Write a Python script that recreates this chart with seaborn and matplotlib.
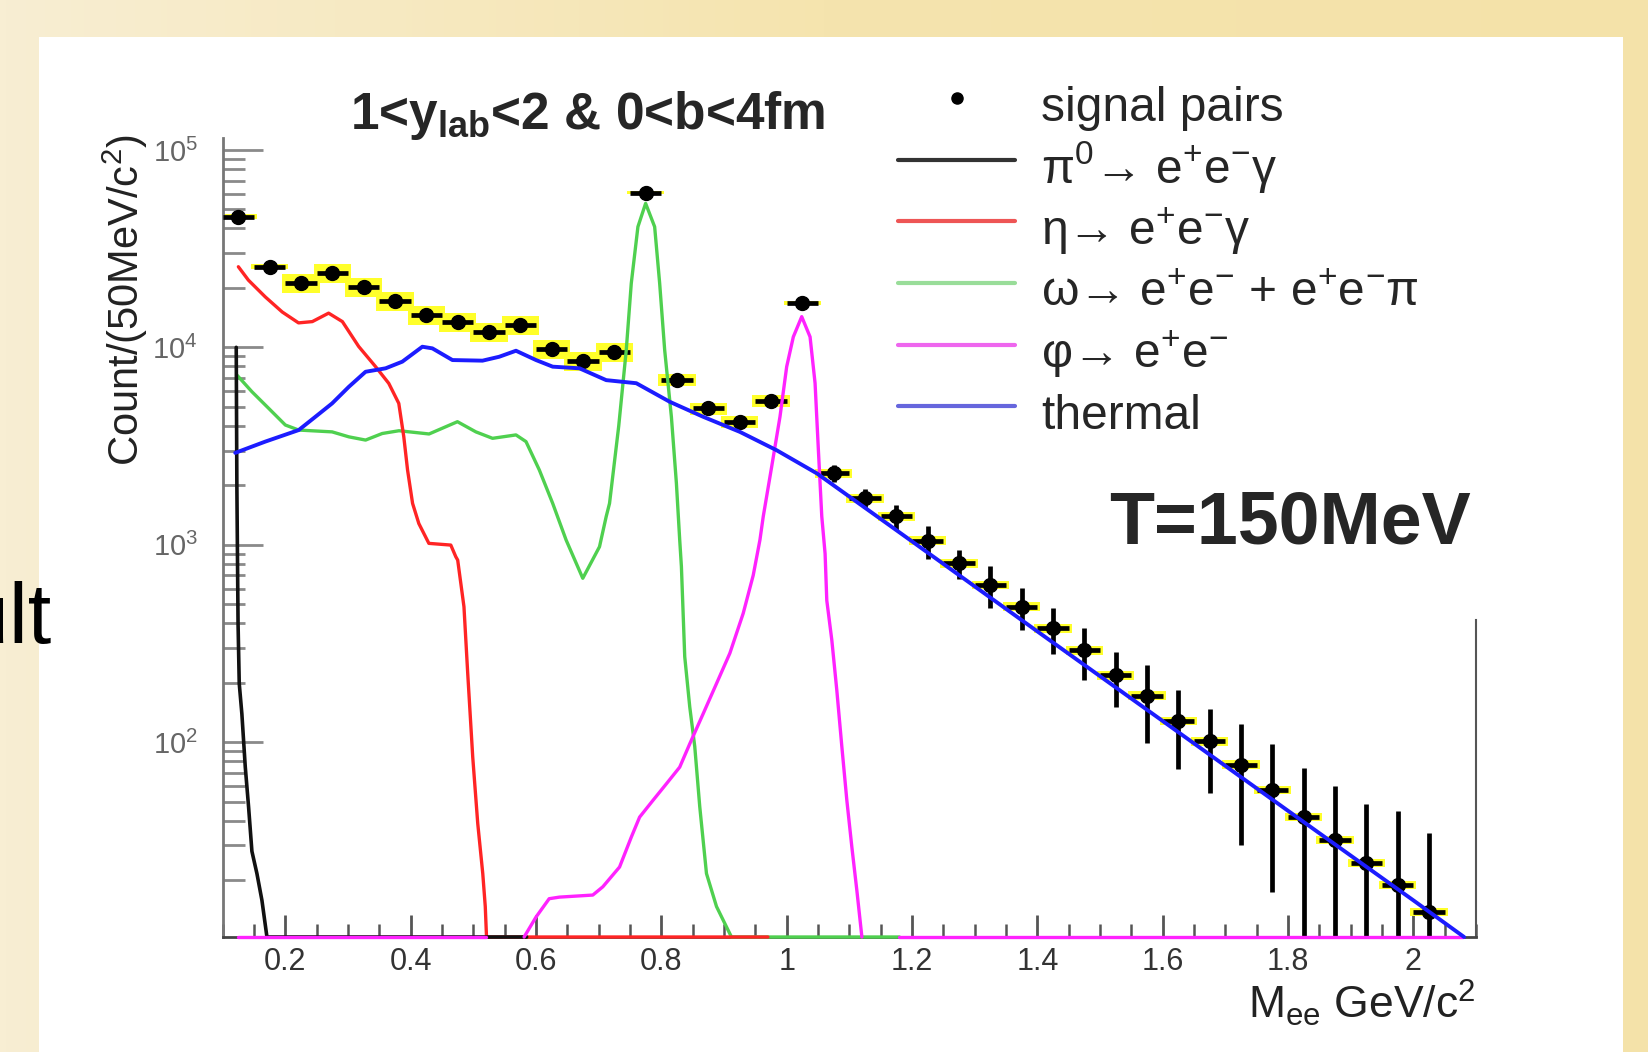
import numpy as np
import pandas as pd
import seaborn as sns
import matplotlib.pyplot as plt
import matplotlib.colors as mcolors
from matplotlib.lines import Line2D
from matplotlib.patches import Rectangle
from matplotlib.ticker import LogLocator, MultipleLocator, NullFormatter

# signal pairs, 50 MeV bins
mass = [0.125, 0.175, 0.225, 0.275, 0.325, 0.375, 0.425, 0.475, 0.525, 0.575,
        0.625, 0.675, 0.725, 0.775, 0.825, 0.875, 0.925, 0.975, 1.025, 1.075,
        1.125, 1.175, 1.225, 1.275, 1.325, 1.375, 1.425, 1.475, 1.525, 1.575,
        1.625, 1.675, 1.725, 1.775, 1.825, 1.875, 1.925, 1.975, 2.025]
signal = [45900, 25600, 21100, 23900, 20300, 17200, 14600, 13500, 11900, 13000,
          9800, 8550, 9500, 60700, 6820, 4910, 4200, 5350, 16800, 2300,
          1720, 1390, 1050, 805, 627, 486, 377, 292, 218, 172,
          128, 101, 77, 57.4, 41.8, 32, 24.4, 18.9, 13.8]
stat_err = [900, 700, 600, 650, 600, 550, 500, 480, 450, 470,
            400, 380, 400, 1000, 330, 280, 260, 300, 520, 230,
            190, 200, 200, 134, 151, 117, 99, 85, 68, 73,
            55, 46, 47, 40, 32.5, 28, 24, 25.8, 20.9]
sys_frac = [0.03, 0.03, 0.11, 0.11, 0.11, 0.11, 0.11, 0.11, 0.11, 0.11,
            0.11, 0.11, 0.11, 0.02, 0.07, 0.07, 0.07, 0.07, 0.02, 0.05,
            0.05, 0.05, 0.05, 0.05, 0.05, 0.05, 0.05, 0.05, 0.05, 0.05,
            0.05, 0.05, 0.05, 0.05, 0.05, 0.05, 0.05, 0.05, 0.05]

# cocktail curves (0 = empty bin, nan = gap)
pi0_x = [0.1216, 0.1226, 0.1245, 0.1264, 0.1306, 0.136, 0.1413, 0.1466, 0.1546, 0.1626, 0.1706, 0.585]
pi0_y = [10000, 2000, 400, 198, 139, 75, 47, 28, 21.6, 15.8, 10.3, 0]

eta_x = [0.125, 0.141, 0.168, 0.195, 0.221, 0.243, 0.269, 0.291, 0.317, 0.344,
         0.365, 0.381, 0.389, 0.395, 0.403, 0.413, 0.429, 0.464, 0.472, 0.475,
         0.485, 0.491, 0.499, 0.507, 0.515, 0.519, 0.521, 0.97]
eta_y = [25600, 21900, 18000, 15100, 13300, 13500, 14900, 13500, 10100, 7980,
         6570, 5200, 3520, 2390, 1620, 1280, 1016, 996, 869, 836,
         485, 223, 84, 38.7, 21.6, 14.7, 0, 0]

omega_x = [0.1226, 0.1466, 0.1733, 0.2, 0.2213, 0.2746, 0.3013, 0.328, 0.3546, 0.3813,
           0.4293, 0.4746, 0.504, 0.5306, 0.568, 0.584, 0.6053, 0.6266, 0.648, 0.6746,
           0.7013, 0.712, 0.7173, 0.732, 0.744, 0.752, 0.7626, 0.7749, 0.7893, 0.7973,
           0.8053, 0.816, 0.824, 0.8293, 0.832, 0.8373, 0.8453, 0.8533, 0.8613, 0.872,
           0.888, 0.9093, 0.912, 1.18]
omega_y = [7240, 5960, 4910, 4040, 3810, 3730, 3520, 3390, 3660, 3780,
           3640, 4200, 3730, 3460, 3600, 3330, 2390, 1620, 1057, 676,
           977, 1390, 1620, 4000, 9690, 21100, 40800, 53600, 40800, 21100,
           9690, 4450, 2050, 1057, 774, 271, 151, 95, 47, 21.6,
           14.7, 10.7, 0, 0]

phi_x = [0.125, 0.52, np.nan,
         0.581, 0.6, 0.621, 0.6373, 0.6906, 0.7066, 0.7333, 0.752, 0.7653, 0.7866,
         0.808, 0.8293, 0.8453, 0.8666, 0.888, 0.9093, 0.9306, 0.9466, 0.9573, 0.9626,
         0.976, 0.9893, 1.0, 1.0106, 1.024, 1.0373, 1.0453, 1.0506, 1.056, 1.0613,
         1.064, 1.072, 1.08, 1.088, 1.096, 1.104, 1.112, 1.12, np.nan,
         1.18, 2.08]
phi_y = [0, 0, np.nan,
         0, 13, 16.1, 16.4, 16.8, 18.5, 23.3, 33, 41.7, 50.7,
         61.5, 74.7, 98, 139, 198, 282, 449, 700, 1057, 1390,
         2480, 4450, 7980, 11300, 14300, 11300, 6580, 3010, 1390, 900,
         522, 329, 183, 95, 50.7, 29.4, 17.7, 0, np.nan,
         0, 0]

thermal_x = [0.12, 0.168, 0.2213, 0.248, 0.2746, 0.3013, 0.328, 0.36, 0.3866, 0.4186,
             0.4346, 0.4666, 0.5146, 0.5413, 0.568, 0.6, 0.6266, 0.6693, 0.712, 0.76,
             0.8133, 0.8666, 0.9253, 0.984, 1.048, 1.2, 1.4, 1.6, 1.8, 2.0, 2.081]
thermal_y = [2920, 3330, 3810, 4450, 5200, 6310, 7520, 7830, 8460, 10070,
             9880, 8620, 8560, 8960, 9610, 8620, 7980, 7830, 6820, 6580,
             5300, 4450, 3730, 3010, 2300, 1040, 364, 128, 44.9, 15.8, 10.3]

xtick_pos = [0.2, 0.4, 0.6, 0.8, 1.0, 1.2, 1.4, 1.6, 1.8, 2.0]
xtick_labels = ['0.2', '0.4', '0.6', '0.8', '1', '1.2', '1.4', '1.6', '1.8', '2']

labels = ['signal pairs',
          r'π$^{0}$→ e$^{+}$e$^{-}$γ',
          r'η→ e$^{+}$e$^{-}$γ',
          r'ω→ e$^{+}$e$^{-}$ + e$^{+}$e$^{-}$π',
          r'φ→ e$^{+}$e$^{-}$',
          'thermal']

YMIN, YMAX = 10.3, 1.156e5
W, H = 1648, 1052

sns.set_style('white')
plt.rcParams['font.family'] = ['Liberation Sans', 'DejaVu Sans']
plt.rcParams['mathtext.fontset'] = 'custom'
plt.rcParams['mathtext.rm'] = 'Liberation Sans'
plt.rcParams['mathtext.it'] = 'Liberation Sans:italic'
plt.rcParams['mathtext.bf'] = 'Liberation Sans:bold'

fig = plt.figure(figsize=(W / 100, H / 100), dpi=100)

# slide background + white panel
bg = fig.add_axes([0, 0, 1, 1], zorder=-10)
slide = mcolors.LinearSegmentedColormap.from_list('slide', ['#f8eed3', '#f5e4ae', '#f4e2a9'])
bg.imshow(np.linspace(0, 1, 256)[None, :], aspect='auto', cmap=slide, extent=[0, 1, 0, 1])
bg.axis('off')
fig.patches.append(Rectangle((39 / W, 0), (1623 - 39) / W, 1 - 37 / H, transform=fig.transFigure,
                             facecolor='white', edgecolor='none', zorder=-5))

ax = fig.add_axes([222.7 / W, 1 - 937 / H, (1476 - 222.7) / W, (937 - 137.5) / H])
ax.set_yscale('log')
ax.set_xlim(0.1, 2.1)
ax.set_ylim(YMIN, YMAX)

# systematic boxes
sig = np.array(signal)
lo = sig * (1 - np.array(sys_frac))
hi = sig * (1 + np.array(sys_frac))
ax.bar(mass, hi - lo, bottom=lo, width=0.06, color='#ffff2a', edgecolor='none', zorder=1)

ax.errorbar(mass, signal, yerr=stat_err, xerr=0.025, fmt='o', ms=10, color='black',
            elinewidth=3.4, capsize=0, zorder=3)


def draw_curve(xs, ys, color, lw, z):
    df = pd.DataFrame({'m': xs, 'n': ys})
    df['seg'] = df['n'].isna().cumsum()
    df = df.dropna()
    df['n'] = df['n'].clip(lower=YMIN)
    sns.lineplot(data=df, x='m', y='n', units='seg', estimator=None, sort=False, ax=ax,
                 color=color, linewidth=lw, zorder=z, clip_on=False)


draw_curve(omega_x, omega_y, '#4fd04f', 2.4, 4)
draw_curve(eta_x, eta_y, '#ff2424', 2.4, 5)
draw_curve(pi0_x, pi0_y, '#111111', 2.6, 6)
draw_curve(phi_x, phi_y, '#ff22ff', 2.4, 7)
draw_curve(thermal_x, thermal_y, '#1c1cff', 2.8, 8)

ax.set_xlabel('')
ax.set_ylabel('')
ax.set_xticks(xtick_pos)
ax.set_xticklabels(xtick_labels)
ax.xaxis.set_minor_locator(MultipleLocator(0.05))
ax.set_yticks([1e2, 1e3, 1e4, 1e5])
ax.yaxis.set_minor_locator(LogLocator(base=10, subs=np.arange(2, 10)))
ax.yaxis.set_minor_formatter(NullFormatter())
ax.set_ylim(YMIN, YMAX)

ax.tick_params(axis='x', which='major', direction='in', length=16, width=2, color='#555555',
               labelsize=22, labelcolor='#333333', pad=7, bottom=True)
ax.tick_params(axis='x', which='minor', direction='in', length=9.5, width=1.8, color='#555555', bottom=True)
ax.tick_params(axis='y', which='major', direction='in', length=29, width=2, color='#8a8a8a',
               labelsize=21, labelcolor='#666666', pad=18, left=True)
ax.tick_params(axis='y', which='minor', direction='in', length=16, width=2, color='#8a8a8a', left=True)

ax.spines['top'].set_visible(False)
ax.spines['left'].set_color('#777777')
ax.spines['left'].set_linewidth(2)
ax.spines['bottom'].set_color('#444444')
ax.spines['bottom'].set_linewidth(2)
ax.spines['right'].set_color('#555555')
ax.spines['right'].set_linewidth(1.5)
ax.spines['right'].set_bounds(YMIN, 414)

handles = [Line2D([], [], ls='none', marker='o', ms=8, color='black'),
           Line2D([], [], color='#333333', lw=3),
           Line2D([], [], color='#ee5555', lw=3),
           Line2D([], [], color='#99dd99', lw=3),
           Line2D([], [], color='#ee66ee', lw=3),
           Line2D([], [], color='#6666dd', lw=3)]
ax.legend(handles, labels, loc='upper left', bbox_to_anchor=(897.6 / W, 1 - 75 / H),
          bbox_transform=fig.transFigure, frameon=False, fontsize=34.5, handlelength=2.46,
          handletextpad=0.54, handleheight=1.6, labelspacing=0.0, borderpad=0,
          borderaxespad=0, numpoints=1)

fig.text(588 / W, 1 - 129 / H, r'1<y$_{\mathbf{lab}}$<2 & 0<b<4fm', fontsize=37,
         fontweight='bold', ha='center', va='baseline')
fig.text(1289.5 / W, 1 - 543 / H, 'T=150MeV', fontsize=53, fontweight='bold',
         ha='center', va='baseline')
fig.text(1476 / W, 1 - 1019 / H, r'M$_{\mathrm{ee}}$ GeV/c$^{2}$', fontsize=32,
         ha='right', va='baseline', color='#222222')
fig.text(150 / W, 1 - 466 / H, r'Count/(50MeV/c$^{2}$)', rotation=90, fontsize=30,
         ha='right', va='bottom', color='#222222')
fig.text(51 / W, 1 - 643 / H, 'Result', fontsize=61, ha='right', va='baseline', color='black')

fig.savefig('out.png', dpi=100)
